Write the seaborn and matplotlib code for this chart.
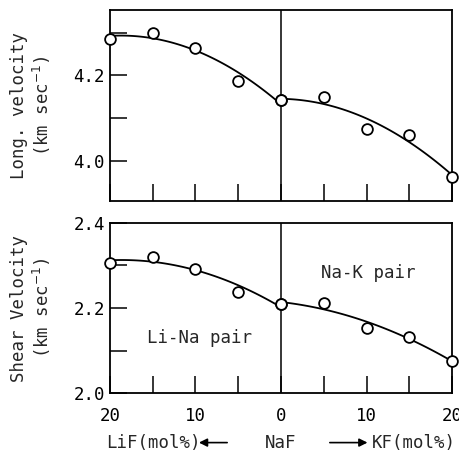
import numpy as np
import pandas as pd
import matplotlib.pyplot as plt
import seaborn as sns

# composition axis: negative = LiF side, positive = KF side (mol%)
comp_li = [-20, -15, -10, -5, 0]
comp_k = [0, 5, 10, 15, 20]

long_li = [4.285, 4.299, 4.264, 4.186, 4.141]
long_k = [4.141, 4.148, 4.075, 4.059, 3.962]

shear_li = [2.306, 2.320, 2.292, 2.238, 2.209]
shear_k = [2.209, 2.212, 2.153, 2.132, 2.075]

xtick_pos = [-20, -10, 0, 10, 20]

sns.set_style('ticks')
plt.rcParams['font.family'] = ['DejaVu Sans Mono', 'DejaVu Sans']
plt.rcParams['mathtext.fontset'] = 'dejavusans'

fig = plt.figure(figsize=(4.6, 4.53), dpi=100)
ax1 = fig.add_axes([0.239, 0.556, 0.744, 0.422])
ax2 = fig.add_axes([0.239, 0.132, 0.744, 0.376])

fs = 12.5


def draw_panel(ax, y_li, y_k):
    for xs, ys in [(comp_li, y_li), (comp_k, y_k)]:
        df = pd.DataFrame({'x': xs, 'y': ys})
        sns.regplot(data=df, x='x', y='y', order=2, ci=None, scatter=False,
                    truncate=True, color='black', line_kws={'lw': 1.3}, ax=ax)
        sns.scatterplot(data=df, x='x', y='y', ax=ax, s=60, marker='o',
                        facecolor='white', edgecolor='black', linewidth=1.3,
                        zorder=5, clip_on=False)
    ax.axvline(0, color='black', lw=1.1)
    ax.set_xlim(-20, 20)
    ax.set_xticks(np.arange(-20, 21, 5))
    ax.tick_params(direction='in', length=12, width=1.1, labelsize=fs,
                   top=False, right=False, colors='black')
    for s in ax.spines.values():
        s.set_linewidth(1.3)
        s.set_color('black')
    ax.set_xlabel('')


draw_panel(ax1, long_li, long_k)
ax1.set_ylim(3.905, 4.353)
ax1.set_yticks([4.0, 4.1, 4.2, 4.3])
ax1.set_yticklabels(['4.0', '', '4.2', ''])
ax1.set_xticklabels([])
ax1.set_ylabel('Long. velocity\n(km sec$^{-1}$)', fontsize=fs)
ax1.yaxis.set_label_coords(-0.165, 0.5)

draw_panel(ax2, shear_li, shear_k)
ax2.set_ylim(2.0, 2.4)
ax2.set_yticks([2.0, 2.1, 2.2, 2.3, 2.4])
ax2.set_yticklabels(['2.0', '', '2.2', '', '2.4'])
ax2.set_xticks(np.arange(-20, 21, 5))
ax2.set_xticklabels([str(abs(v)) if v in xtick_pos else '' for v in range(-20, 21, 5)])
ax2.tick_params(axis='x', pad=10)
ax2.set_ylabel('Shear Velocity\n(km sec$^{-1}$)', fontsize=fs)
ax2.yaxis.set_label_coords(-0.165, 0.5)

ax2.text(-15.7, 2.13, 'Li-Na pair', fontsize=fs, va='center', ha='left')
ax2.text(4.7, 2.282, 'Na-K pair', fontsize=fs, va='center', ha='left')

# composition label under the axis
ylab = -0.29
tr = ax2.get_xaxis_transform()
ax2.text(-20.4, ylab, 'LiF(mol%)', transform=tr,
         fontsize=fs, ha='left', va='center', clip_on=False)
ax2.text(0, ylab, 'NaF', transform=tr,
         fontsize=fs, ha='center', va='center', clip_on=False)
ax2.text(10.6, ylab, 'KF(mol%)', transform=tr,
         fontsize=fs, ha='left', va='center', clip_on=False)
for tail, head in [(-6.3, -9.6), (5.7, 10.1)]:
    ax2.annotate('', xy=(head, ylab), xytext=(tail, ylab),
                 xycoords=tr, textcoords=tr,
                 arrowprops=dict(arrowstyle='-|>', color='black', lw=1.2,
                                 mutation_scale=12, shrinkA=0, shrinkB=0))

fig.savefig('out.png', dpi=100)
